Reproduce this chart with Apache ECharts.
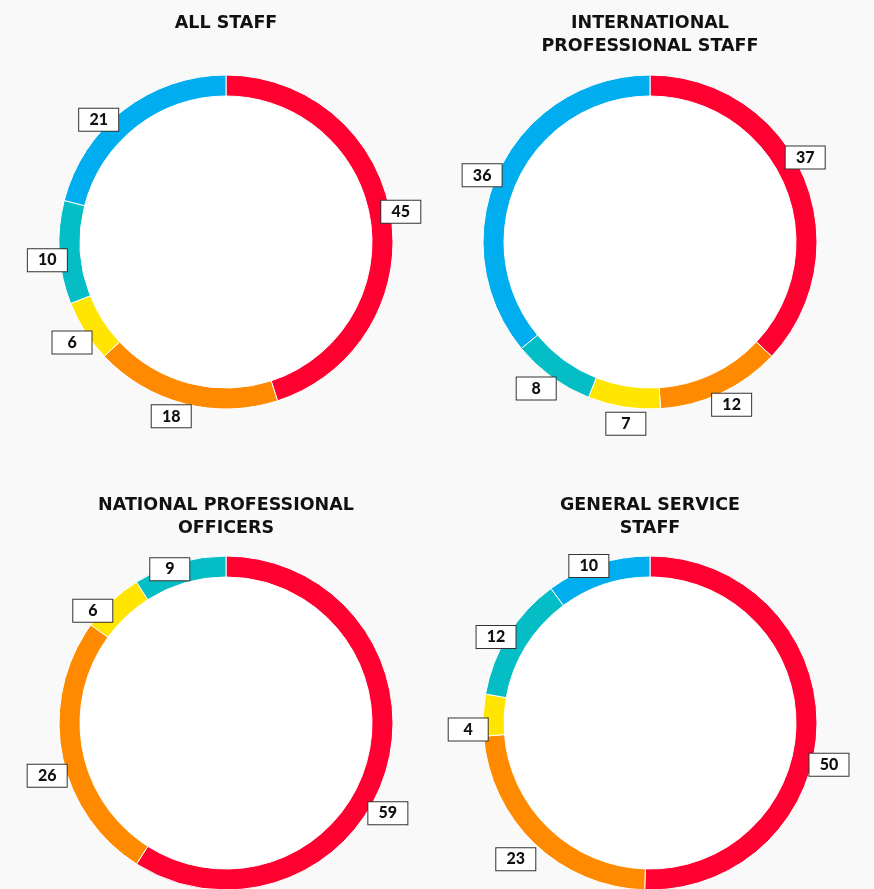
<!DOCTYPE html>
<html>
<head>
<meta charset="utf-8">
<script src="https://cdn.jsdelivr.net/npm/echarts@6/dist/echarts.min.js"></script>
<style>
  html, body { margin: 0; padding: 0; background: #f9f9f9; }
  #chart { width: 874px; height: 889px; }
</style>
</head>
<body>
<div id="chart"></div>
<script>
// Staff composition, percent per segment (same segment order in every ring)
const segments = ['Segment 1', 'Segment 2', 'Segment 3', 'Segment 4', 'Segment 5'];
const panelTitles = [
  'ALL STAFF',
  'INTERNATIONAL\nPROFESSIONAL STAFF',
  'NATIONAL PROFESSIONAL\nOFFICERS',
  'GENERAL SERVICE\nSTAFF'
];
const allStaff = [45, 18, 6, 10, 21];
const internationalProfessional = [37, 12, 7, 8, 36];
const nationalOfficers = [59, 26, 6, 9, 0];
const generalService = [50, 23, 4, 12, 10];

const segmentColors = ['#ff0030', '#ff8a00', '#ffe500', '#05bdc5', '#00aeef'];

// layout of the four panels
const panelValues = [allStaff, internationalProfessional, nationalOfficers, generalService];
const panelCenters = [[226, 242], [650, 242], [226, 723], [650, 723]];
const titleTops = [12, 12, 494, 494];

// small hand nudges for the value boxes so they sit clear of each other
const labelNudges = [
  [[-3, -2], [-10, 0], [-2, 4], [1, 7], [-17, 20]],
  [[-10, -13], [5, 0], [4, 4], [-8, 1], [-5, 10]],
  [[-11, 40], [-2, 19], [-10, 19], [-6, 19], [0, 0]],
  [[-1, 39], [-10, 6], [-2, 15], [-1, 9], [-5, 14]]
];

const series = [];
const titles = [];

panelValues.forEach((values, p) => {
  const center = panelCenters[p];

  titles.push({
    text: panelTitles[p],
    left: center[0],
    top: titleTops[p],
    textAlign: 'center',
    padding: 0,
    textStyle: {
      fontFamily: 'DejaVu Sans',
      fontWeight: 'bold',
      fontSize: 17.5,
      lineHeight: 23,
      color: '#111'
    }
  });

  // white disc inside the ring
  series.push({
    type: 'pie',
    center: center,
    radius: [0, 146],
    silent: true,
    animation: false,
    label: { show: false },
    labelLine: { show: false },
    itemStyle: { color: '#ffffff' },
    data: [{ value: 1, name: 'inner' }]
  });

  // the ring itself
  series.push({
    type: 'pie',
    center: center,
    radius: [146, 167],
    startAngle: 90,
    clockwise: true,
    silent: true,
    animation: false,
    avoidLabelOverlap: false,
    label: { show: false },
    labelLine: { show: false },
    data: values.map((v, i) => ({
      value: v,
      name: segments[i],
      itemStyle: { color: segmentColors[i], borderColor: '#ffffff', borderWidth: v > 0 ? 1 : 0 }
    }))
  });

  // transparent outer band that carries the value boxes at each segment's mid-angle
  series.push({
    type: 'pie',
    center: center,
    radius: [166, 188],
    startAngle: 90,
    clockwise: true,
    silent: true,
    animation: false,
    avoidLabelOverlap: false,
    labelLine: { show: false },
    itemStyle: { color: 'rgba(0,0,0,0)' },
    label: {
      show: true,
      position: 'inside',
      formatter: '{c}',
      fontFamily: 'Lato',
      fontWeight: 900,
      fontSize: 16,
      color: '#111',
      backgroundColor: '#ffffff',
      borderColor: '#333',
      borderWidth: 1,
      width: 39,
      height: 22,
      lineHeight: 22,
      align: 'center',
      verticalAlign: 'middle'
    },
    data: values.map((v, i) => ({
      value: v,
      name: segments[i],
      label: { show: v > 0, offset: labelNudges[p][i] }
    }))
  });
});

const chart = echarts.init(document.getElementById('chart'), null, { renderer: 'canvas' });
chart.setOption({
  backgroundColor: '#f9f9f9',
  animation: false,
  title: titles,
  series: series
});
</script>
</body>
</html>
